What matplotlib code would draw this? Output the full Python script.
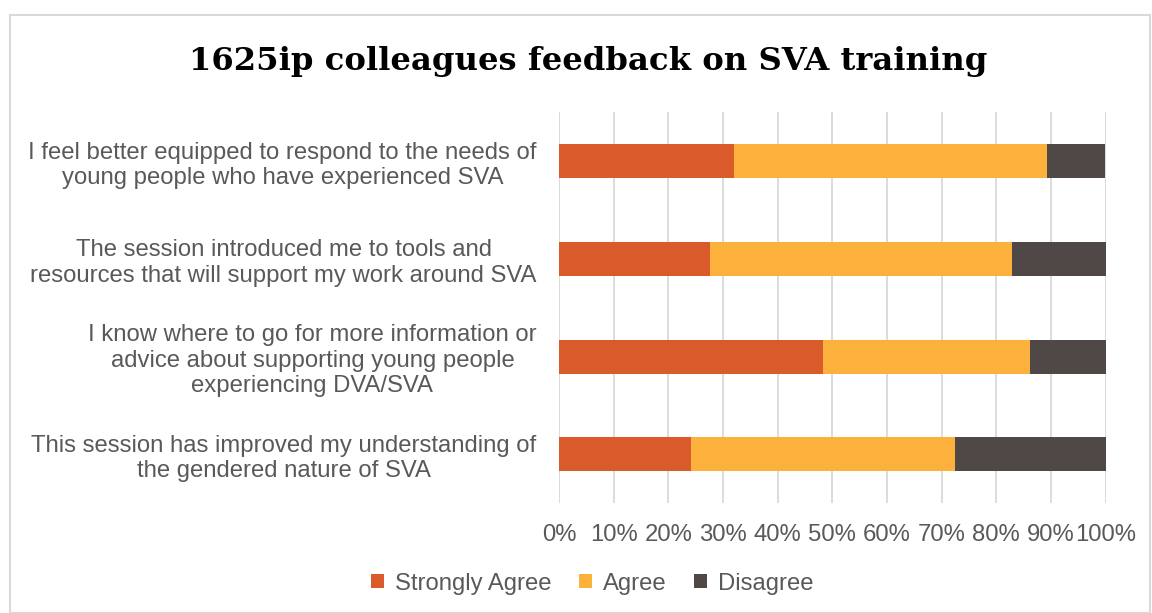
import numpy as np
import matplotlib.pyplot as plt
from matplotlib.patches import Rectangle
from matplotlib.ticker import PercentFormatter

# Statements, top to bottom
statements = [
    "I feel better equipped to respond to the needs of\nyoung people who have experienced SVA",
    "The session introduced me to tools and\nresources that will support my work around SVA",
    "I know where to go for more information or\nadvice about supporting young people\nexperiencing DVA/SVA",
    "This session has improved my understanding of\nthe gendered nature of SVA",
]

# Share of responses (%)
strongly_agree = [32.1, 27.6, 48.3, 24.1]
agree = [57.1, 55.2, 37.9, 48.3]
disagree = [10.7, 17.2, 13.8, 27.6]

series_names = ["Strongly Agree", "Agree", "Disagree"]
colors = ["#D95B2B", "#FBB13C", "#504846"]
text_gray = "#595959"

plt.rcParams['font.family'] = ['Liberation Sans', 'DejaVu Sans']

fig = plt.figure(figsize=(11.52, 6.13), dpi=100)
ax = fig.add_axes([0.4852, 0.179, 0.4746, 0.638])

y = np.arange(len(statements))
left = np.zeros(len(statements))
for vals, name, c in zip([strongly_agree, agree, disagree], series_names, colors):
    ax.barh(y, vals, left=left, height=0.35, color=c, label=name, zorder=3)
    left = left + np.array(vals)

ax.set_ylim(len(statements) - 0.5, -0.5)
ax.set_xlim(0, 100)
ax.set_xticks(np.arange(0, 101, 10))
ax.xaxis.set_major_formatter(PercentFormatter(decimals=0))
ax.set_yticks(y)
ax.set_yticklabels(statements, multialignment='center')
ax.tick_params(axis='both', length=0, labelsize=17.2, colors=text_gray)
ax.tick_params(axis='x', pad=15)
ax.tick_params(axis='y', pad=16)
ax.grid(axis='x', color='#D9D9D9', linewidth=1.3, zorder=0)
for s in ax.spines.values():
    s.set_visible(False)

# Title
fig.text(0.511, 0.9, "1625ip colleagues feedback on SVA training",
         ha='center', va='center', fontsize=23.2, fontweight='bold',
         family='DejaVu Serif', color='black')

# Legend
ax.legend(loc='center', bbox_to_anchor=(0.514, 0.048), bbox_transform=fig.transFigure,
          ncol=3, frameon=False, fontsize=17.2, labelcolor=text_gray,
          handlelength=0.55, handleheight=0.55, handletextpad=0.45, columnspacing=1.15)

# Chart area border
fig.patches.append(Rectangle((10 / 1152, 0), 1140 / 1152, 598 / 613, transform=fig.transFigure,
                             fill=False, edgecolor='#D9D9D9', linewidth=1.5))

fig.savefig("out.png", dpi=100)
